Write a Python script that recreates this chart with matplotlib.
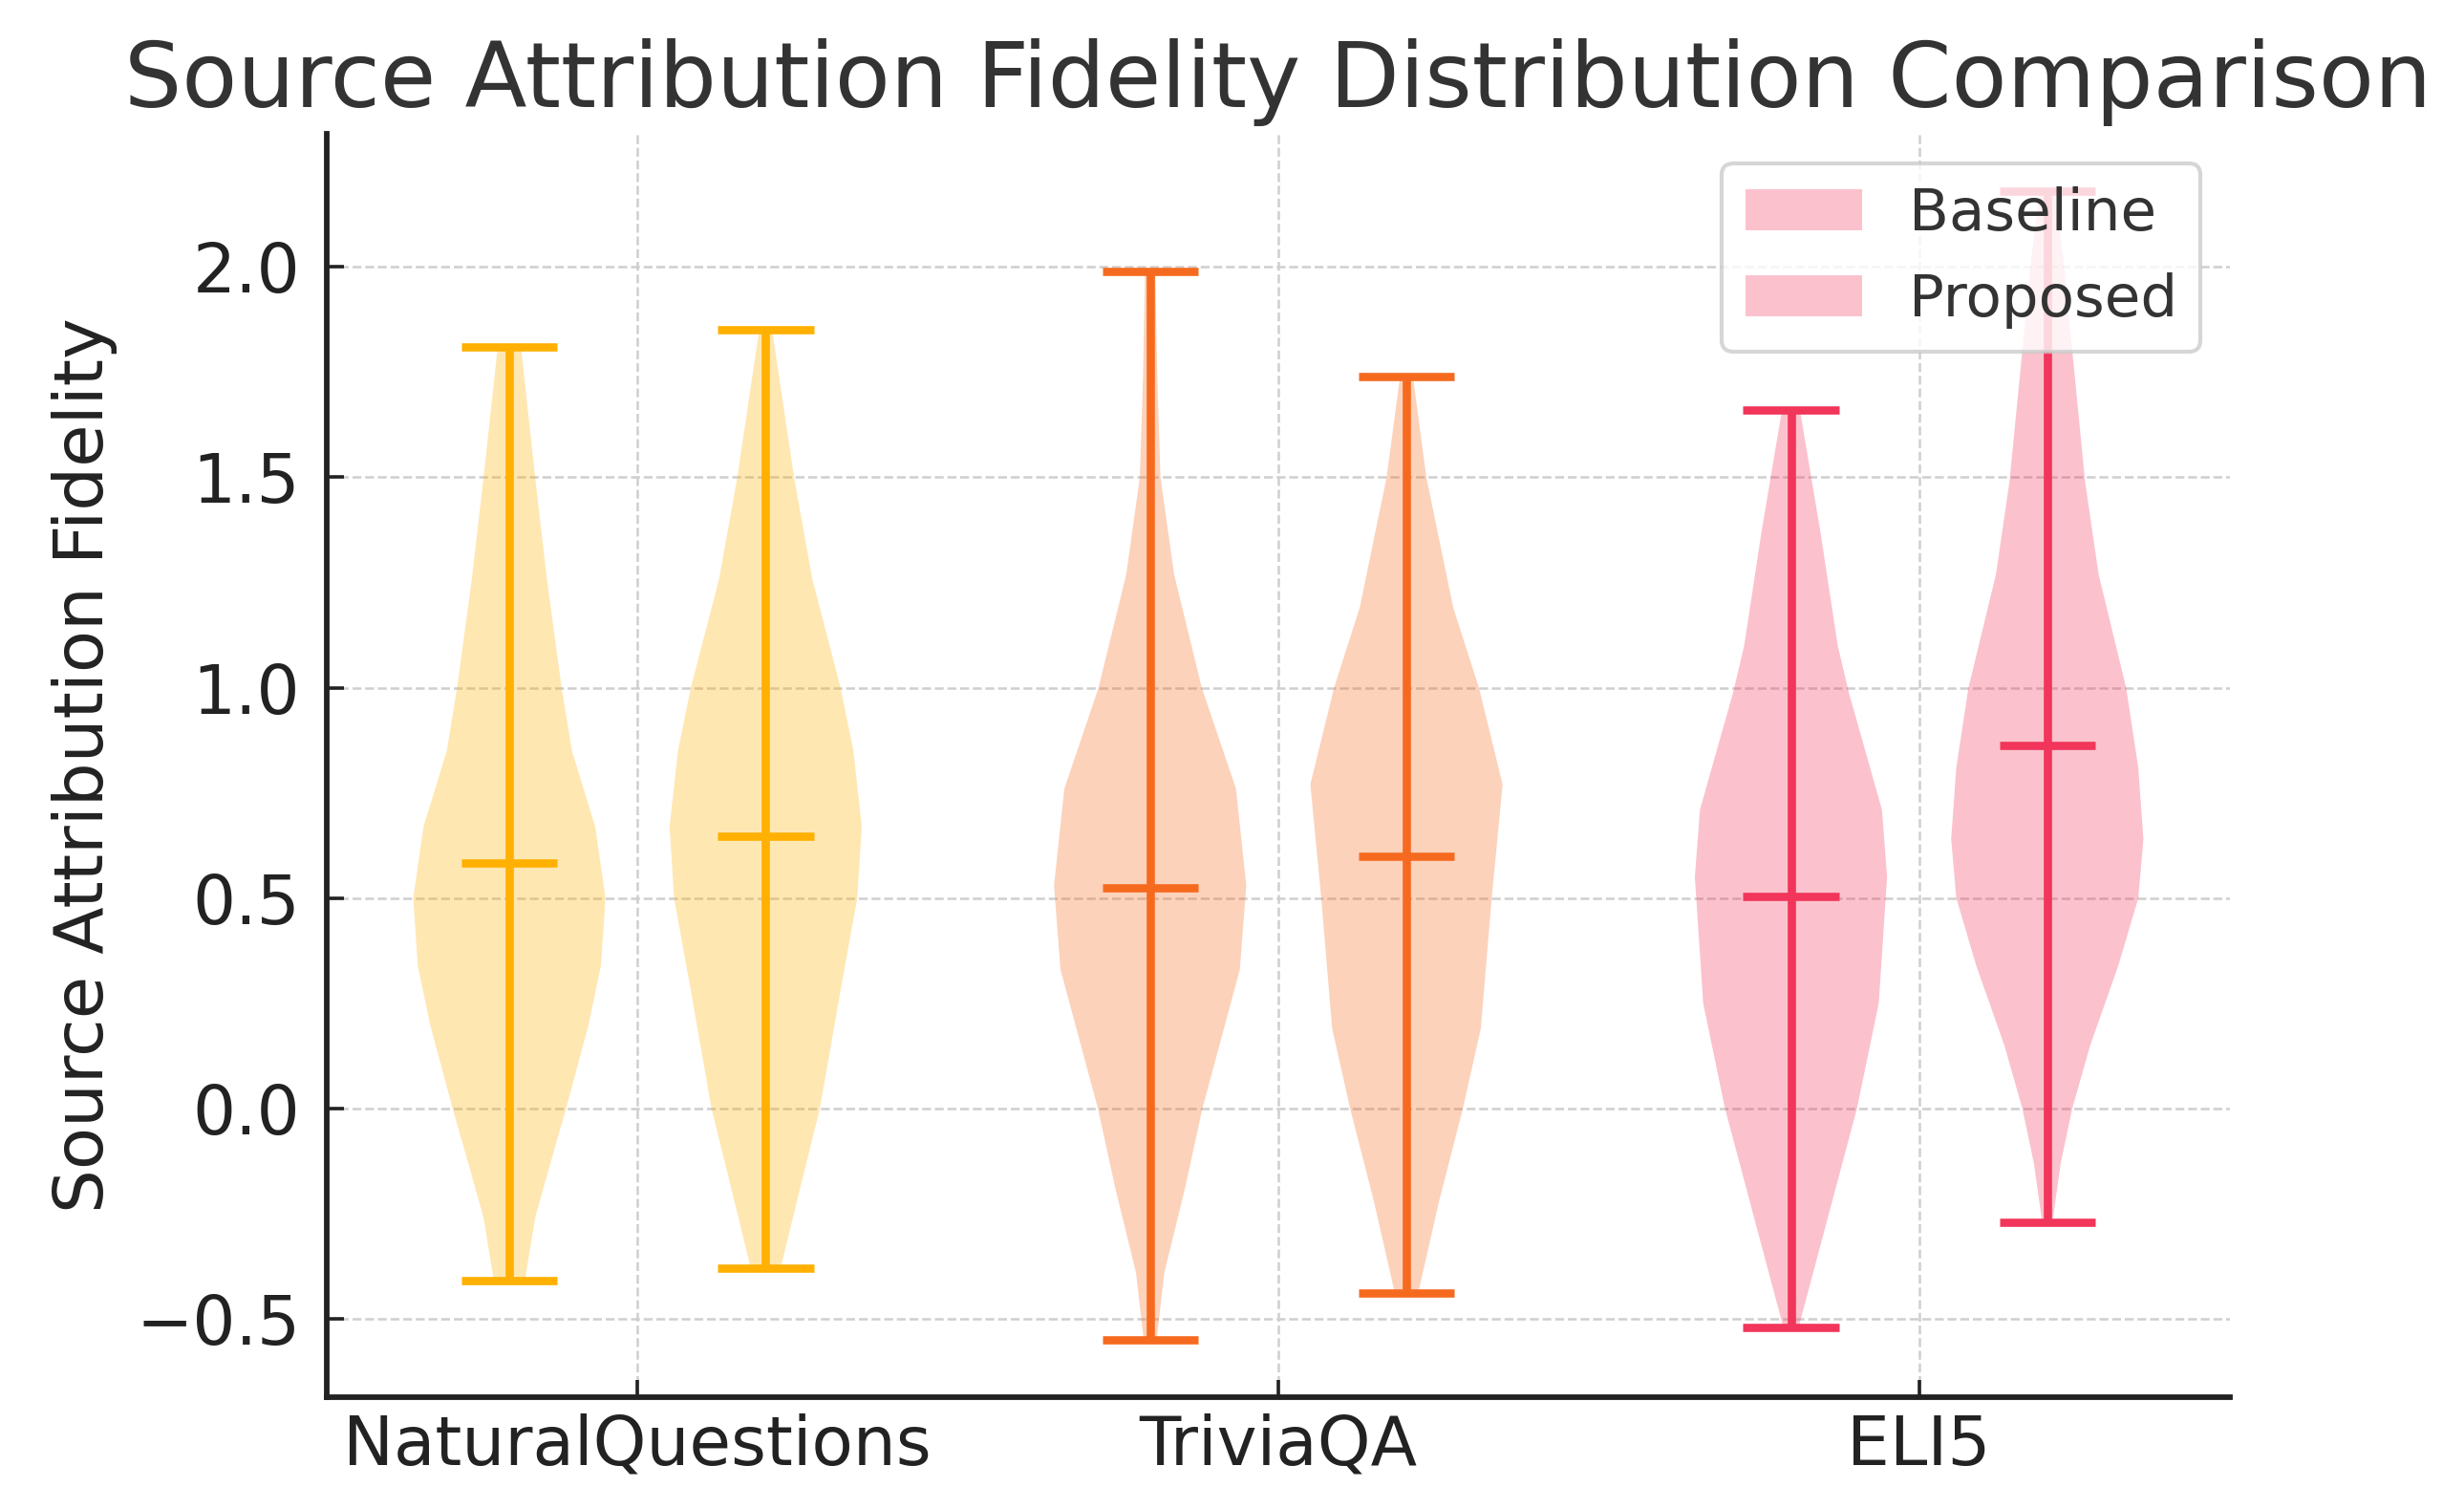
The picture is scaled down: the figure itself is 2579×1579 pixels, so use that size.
import numpy as np
import matplotlib.pyplot as plt

categories = ['NaturalQuestions', 'TriviaQA', 'ELI5']
colors = ['#FFB000', '#F66A1F', '#F2355A']

# density profiles: value levels and relative violin half-widths
nq_base_y = [-0.41, -0.26, -0.15, 0.0, 0.2, 0.34, 0.5, 0.67, 0.85, 1.0, 1.26, 1.5, 1.81]
nq_base_w = [0.024, 0.040, 0.060, 0.088, 0.123, 0.142, 0.149, 0.133, 0.097, 0.081, 0.058, 0.040, 0.018]
nq_prop_y = [-0.38, -0.18, 0.0, 0.28, 0.5, 0.67, 0.85, 1.0, 1.26, 1.5, 1.85]
nq_prop_w = [0.023, 0.055, 0.084, 0.116, 0.142, 0.149, 0.136, 0.116, 0.072, 0.044, 0.010]

tq_base_y = [-0.55, -0.39, -0.19, 0.0, 0.33, 0.53, 0.76, 1.0, 1.27, 1.5, 1.74, 1.99]
tq_base_w = [0.010, 0.022, 0.054, 0.081, 0.139, 0.149, 0.133, 0.080, 0.037, 0.016, 0.011, 0.008]
tq_prop_y = [-0.44, -0.22, 0.0, 0.19, 0.5, 0.77, 1.0, 1.19, 1.5, 1.74]
tq_prop_w = [0.018, 0.051, 0.088, 0.116, 0.133, 0.150, 0.113, 0.073, 0.031, 0.010]

eli_base_y = [-0.52, -0.28, 0.0, 0.25, 0.55, 0.71, 0.99, 1.10, 1.37, 1.66]
eli_base_w = [0.012, 0.054, 0.103, 0.137, 0.150, 0.142, 0.090, 0.073, 0.046, 0.014]
eli_prop_y = [-0.27, -0.13, 0.0, 0.15, 0.34, 0.5, 0.64, 0.81, 1.0, 1.27, 1.49, 1.80, 2.02, 2.18]
eli_prop_w = [0.008, 0.021, 0.039, 0.067, 0.111, 0.142, 0.150, 0.142, 0.123, 0.080, 0.059, 0.039, 0.025, 0.012]

medians_base = [0.584, 0.525, 0.504]
medians_prop = [0.648, 0.599, 0.862]

profiles = [
    ((nq_base_y, nq_base_w), (nq_prop_y, nq_prop_w)),
    ((tq_base_y, tq_base_w), (tq_prop_y, tq_prop_w)),
    ((eli_base_y, eli_base_w), (eli_prop_y, eli_prop_w)),
]


def make_stats(y, w, med):
    y = np.array(y)
    return {'coords': y, 'vals': np.array(w), 'mean': med, 'median': med,
            'min': y.min(), 'max': y.max()}


plt.rcParams['font.family'] = 'DejaVu Sans'
fig = plt.figure(figsize=(12.895, 7.895), dpi=200)
ax = fig.add_subplot(111)
fig.subplots_adjust(left=0.1326, right=0.905, bottom=0.0741, top=0.9113)

for i, (base, prop) in enumerate(profiles):
    stats = [make_stats(base[0], base[1], medians_base[i]),
             make_stats(prop[0], prop[1], medians_prop[i])]
    parts = ax.violin(stats, positions=[i - 0.2, i + 0.2], widths=0.3,
                      showmeans=False, showextrema=True, showmedians=True)
    for pc in parts['bodies']:
        pc.set_facecolor(colors[i])
        pc.set_edgecolor('none')
        pc.set_alpha(0.3)
    for key in ['cbars', 'cmins', 'cmaxes', 'cmedians']:
        parts[key].set_color(colors[i])
        parts[key].set_linewidth(3.1)

leg = ax.legend(parts['bodies'], ['Baseline', 'Proposed'], loc='upper right',
                fontsize=22, labelcolor='#333333')
leg.get_frame().set_edgecolor('#cccccc')
leg.get_frame().set_linewidth(1.5)

ax.set_xticks(range(len(categories)))
ax.set_xticklabels(categories)
ax.set_yticks([-0.5, 0.0, 0.5, 1.0, 1.5, 2.0])
ax.set_title('Source Attribution Fidelity Distribution Comparison',
             fontsize=34.2, color='#333333', pad=10)
ax.set_ylabel('Source Attribution Fidelity', fontsize=26, color='#222222', labelpad=7)

ax.grid(True, linestyle='--', color='#cfcfcf', linewidth=0.9)
ax.set_axisbelow(True)
ax.spines['top'].set_visible(False)
ax.spines['right'].set_visible(False)
for s in ['left', 'bottom']:
    ax.spines[s].set_linewidth(2.1)
    ax.spines[s].set_color('#222222')
ax.tick_params(direction='in', length=6.5, width=1.3, color='#222222',
               labelsize=25.5, labelcolor='#222222')
ax.tick_params(axis='x', pad=6)
ax.tick_params(axis='y', pad=10)

fig.savefig('out.png', dpi=200)
